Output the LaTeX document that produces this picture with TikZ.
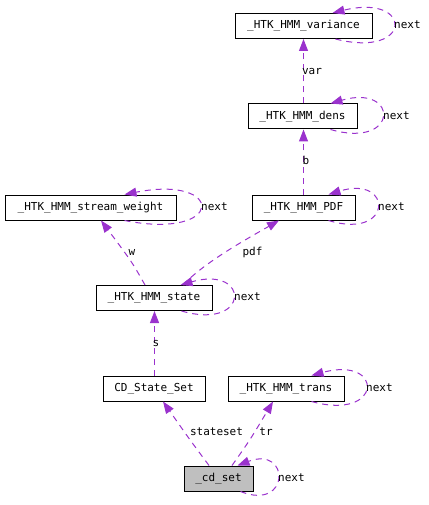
\documentclass[tikz,border=0pt]{standalone}
\usepackage{fontspec}
\newfontfamily\dvm{DejaVu Sans Mono}
\usetikzlibrary{arrows.meta}
\definecolor{edgecol}{HTML}{9A32CD}
\definecolor{cdgray}{HTML}{BFBFBF}
\begin{document}
\begin{tikzpicture}[x=1pt,y=-1pt,
  box/.style={draw=black,line width=1pt,inner sep=0pt,minimum height=25pt,font=\dvm\fontsize{11}{13}\selectfont},
  edge/.style={draw=edgecol,line width=1pt,dash pattern=on 6pt off 5pt,
    -{Triangle[length=12pt,width=9pt,fill=edgecol,color=edgecol]}},
  lbl/.style={inner sep=0pt,font=\dvm\fontsize{11}{13}\selectfont},
  nxt/.style={lbl,anchor=west}]
\useasboundingbox (0,0) rectangle (428,505);
% nodes
\node[box,minimum width=137pt] (v)  at (303.5,26)   {\_HTK\_HMM\_variance};
\node[box,minimum width=109pt] (d)  at (302.5,116.5){\_HTK\_HMM\_dens};
\node[box,minimum width=103pt] (p)  at (303.5,207.5){\_HTK\_HMM\_PDF};
\node[box,minimum width=171pt] (sw) at (90.5,207.5) {\_HTK\_HMM\_stream\_weight};
\node[box,minimum width=116pt] (st) at (154,298)    {\_HTK\_HMM\_state};
\node[box,minimum width=102pt] (cs) at (154,388.5)  {CD\_State\_Set};
\node[box,minimum width=116pt] (tr) at (286,388.5)  {\_HTK\_HMM\_trans};
\node[box,minimum width=69pt,fill=cdgray] (cd) at (218.5,478.5) {\_cd\_set};
% edges
\draw[edge] ([xshift=1pt]d.north) -- (v.south);
\node[lbl] (lvar) at (312,71) {var};
\draw[edge] (p.north) -- ([xshift=1pt]d.south);
\node[lbl] (lb) at (306,160) {b};
\draw[edge] ([xshift=-9pt]st.north) .. controls (132,262) .. ([xshift=10.5pt]sw.south);
\node[lbl] (lw) at (132,252) {w};
\draw[edge] ([xshift=29pt]st.north) .. controls (205,262) and (245,240) .. ([xshift=-24.5pt]p.south);
\node[lbl] (lpdf) at (252.5,252) {pdf};
\draw[edge] ([xshift=0.5pt]cs.north) -- ([xshift=0.5pt]st.south);
\node[lbl] (ls) at (156,343) {s};
\draw[edge] ([xshift=-9.5pt]cd.north) .. controls (190,440) .. ([xshift=9pt]cs.south);
\node[lbl] (lss) at (216.5,432) {stateset};
\draw[edge] ([xshift=13.5pt]cd.north) .. controls (250,440) .. ([xshift=-13pt]tr.south);
\node[lbl] (ltr) at (266,432) {tr};
% self loops
\draw[edge] ([xshift=-37pt]v.south east) .. controls +(78,20) and +(81,-20) .. ([xshift=-40pt]v.north east);
\node[nxt] (nv) at (394,25) {next};
\draw[edge] ([xshift=-27pt]d.south east) .. controls +(69,20) and +(69,-20) .. ([xshift=-27pt]d.north east);
\node[nxt] (nd) at (383,115.5) {next};
\draw[edge] ([xshift=-27pt]p.south east) .. controls +(65,20) and +(65,-20) .. ([xshift=-27pt]p.north east);
\node[nxt] (np) at (378,206.5) {next};
\draw[edge] ([xshift=-52pt]sw.south east) .. controls +(101,20) and +(101,-20) .. ([xshift=-52pt]sw.north east);
\node[nxt] (nsw) at (201,206.5) {next};
\draw[edge] ([xshift=-31pt]st.south east) .. controls +(69,20) and +(70,-20) .. ([xshift=-32pt]st.north east);
\node[nxt] (nst) at (234,297) {next};
\draw[edge] ([xshift=-33pt]tr.south east) .. controls +(72,20) and +(73,-20) .. ([xshift=-33pt]tr.north east);
\node[nxt] (ntr) at (366,387.5) {next};
\draw[edge] ([xshift=-13pt]cd.south east) .. controls +(50,20) and +(53,-20) .. ([xshift=-16pt]cd.north east);
\node[nxt] (ncd) at (278,477.5) {next};
\end{tikzpicture}
\end{document}
